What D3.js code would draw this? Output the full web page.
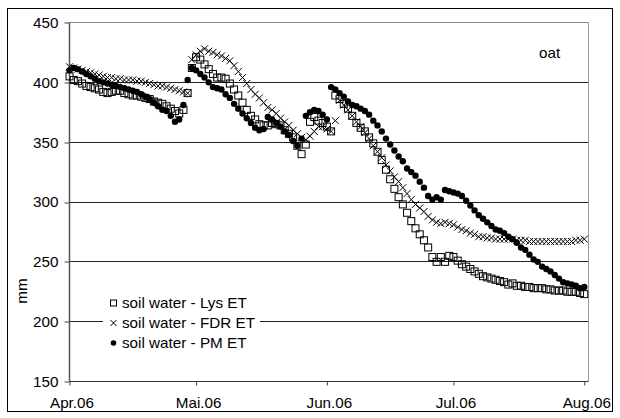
<!DOCTYPE html>
<html><head><meta charset="utf-8">
<script src="https://cdn.jsdelivr.net/npm/d3@7"></script>
<style>body{margin:0;background:#fff}svg{display:block;font-family:"Liberation Sans",Arial,sans-serif}</style>
</head><body><svg id="c" width="620" height="418"></svg>
<script>
// daily values from 2006-04-01 to 2006-08-01
const startDate = "2006-04-01";
const lysValues = [
 405,402,401,399,397,396,395,394,392,391,392,393,393,391,390,389,389,388,387,386,384,383,382,380,378,376,374,377,391,412,
 421,419,415,411,407,404,404,403,399,394,389,383,377,372,369,365,364,364,366,365,364,360,357,354,347,340,348,367,371,368,366,363,359,
 389,386,382,378,372,366,362,359,354,349,342,335,327,319,311,304,298,291,284,278,273,268,262,254,250,254,250,255,254,251,248,246,
 244,242,240,238,237,236,235,234,233,231,232,230,230,229,229,228,228,228,227,227,226,226,226,225,225,225,224,223];
const fdrValues = [
 413,412,411,410,409,408,407,406,405,404,404,403,403,402,402,402,401,401,400,399,398,397,397,396,395,394,393,392,391,
 419,423,426,428,426,425,423,422,420,418,414,409,404,399,394,390,387,383,379,377,374,370,367,364,360,357,354,352,355,359,363,363,361,359,368,
 385,381,377,372,367,363,358,353,347,342,337,331,326,321,317,312,307,302,298,295,292,288,285,283,282,283,282,281,279,277,276,274,273,271,271,270,270,
 269,269,269,269,269,268,268,268,267,267,267,267,267,267,267,267,267,267,267,268,268,269];
const pmValues = [
 410,412,411,409,407,405,403,401,400,399,398,397,396,395,394,393,392,390,388,386,383,380,377,376,372,367,369,381,402,412,
 410,407,404,400,396,395,394,390,387,382,378,374,370,366,362,360,361,371,369,366,363,359,356,351,347,353,372,375,377,376,373,369,
 396,394,391,388,384,381,380,378,376,373,368,364,359,353,348,343,338,334,328,325,322,317,312,305,302,304,302,310,309,308,307,305,301,
 297,293,289,286,283,280,277,276,274,271,269,266,262,260,256,252,250,246,244,242,239,236,233,232,231,230,228,229];
const monthTicks = ["2006-04-01","2006-05-01","2006-06-01","2006-07-01","2006-08-01"];
const monthLabels = ["Apr.06","Mai.06","Jun.06","Jul.06","Aug.06"];
const yTicks = [150,200,250,300,350,400,450];
const seriesNames = ["soil water - Lys ET","soil water - FDR ET","soil water - PM ET"];
const cropLabel = "oat";
const yLabel = "mm";

const svg = d3.select("#c");
const FS = 14, SX = 1.09;
const L = 69.5, R = 588.5, T = 22.5, B = 381.5;
const x = d3.scaleUtc().domain([new Date("2006-04-01"), new Date("2006-08-02")]).range([L, R]);
const y = d3.scaleLinear().domain([150, 450]).range([B, T]);
const crisp = v => Math.round(v - 0.5) + 0.5;

function label(g, tx, ty, str, anchor, rot) {
  const t = g.append("text").attr("transform", `translate(${tx},${ty})${rot ? ` rotate(${rot})` : ""} scale(${SX},1)`)
    .attr("font-size", FS).attr("fill", "#000");
  if (anchor) t.attr("text-anchor", anchor);
  return t.text(str);
}

svg.append("rect").attr("x",7.5).attr("y",8.5).attr("width",605).attr("height",403)
  .attr("fill","#fff").attr("stroke","#000");

// gridlines
svg.append("g").selectAll("line").data(yTicks.slice(1)).join("line")
  .attr("x1",L).attr("x2",R).attr("y1",d=>crisp(y(d))).attr("y2",d=>crisp(y(d)))
  .attr("stroke",d=>d===450?"#888":"#222").attr("stroke-width",1);
// right border
svg.append("line").attr("x1",R).attr("x2",R).attr("y1",T).attr("y2",B).attr("stroke","#999");

// axes (ticks)
const yAxis = svg.append("g").attr("transform",`translate(${L},0)`)
  .call(d3.axisLeft(y).tickValues(yTicks).tickSize(5).tickFormat(""));
yAxis.select(".domain").remove();
yAxis.selectAll(".tick line").attr("stroke","#444").attr("transform",d=>`translate(0,${crisp(y(d))-y(d)})`);
yAxis.selectAll(".tick").each(function(d){
  label(d3.select(this), -11, 0.35*FS, d3.format("d")(d), "end");
});

const xAxis = svg.append("g").attr("transform",`translate(0,${B})`)
  .call(d3.axisBottom(x).tickValues(monthTicks.map(d=>new Date(d))).tickSize(4).tickFormat(""));
xAxis.select(".domain").remove();
xAxis.selectAll(".tick line").attr("stroke","#444");
xAxis.selectAll(".tick").each(function(d,i){
  label(d3.select(this), 2, 26.5, monthLabels[i], "middle");
});

svg.append("line").attr("x1",L).attr("x2",L).attr("y1",T).attr("y2",B).attr("stroke","#555").attr("stroke-width",1.5);
svg.append("line").attr("x1",L).attr("x2",R).attr("y1",B).attr("y2",B).attr("stroke","#333").attr("stroke-width",1.2);

label(svg, 27, 291, yLabel, "middle", -90);
label(svg, 539, 58, cropLabel, null);

const day = i => d3.utcDay.offset(new Date(startDate), i);
const crossPath = "M-3.5,-3.5L3.5,3.5M-3.5,3.5L3.5,-3.5";

// Lys squares
svg.append("g").selectAll("rect").data(lysValues).join("rect")
  .attr("x",(d,i)=>x(day(i))-3.5).attr("y",d=>y(d)-3.5).attr("width",7).attr("height",7)
  .attr("fill","none").attr("stroke","#000").attr("stroke-width",1);
// FDR crosses
svg.append("g").selectAll("path").data(fdrValues).join("path")
  .attr("transform",(d,i)=>`translate(${x(day(i))},${y(d)})`).attr("d",crossPath)
  .attr("fill","none").attr("stroke","#000").attr("stroke-width",1);
// PM dots
svg.append("g").selectAll("circle").data(pmValues).join("circle")
  .attr("cx",(d,i)=>x(day(i))).attr("cy",d=>y(d)).attr("r",3.2).attr("fill","#000");

// legend
const lg = svg.append("g");
lg.append("rect").attr("x",103).attr("y",293).attr("width",157).attr("height",60).attr("fill","#fff");
const rows = [303, 323, 343];
lg.append("rect").attr("x",110.5).attr("y",rows[0]-3).attr("width",6).attr("height",6).attr("fill","none").attr("stroke","#000");
lg.append("path").attr("transform",`translate(113.5,${rows[1]})`).attr("d","M-3,-3L3,3M-3,3L3,-3").attr("stroke","#000");
lg.append("circle").attr("cx",113.5).attr("cy",rows[2]).attr("r",2.8).attr("fill","#000");
seriesNames.forEach((s,i)=>label(lg, 122, rows[i]+5, s, null));
</script></body></html>
